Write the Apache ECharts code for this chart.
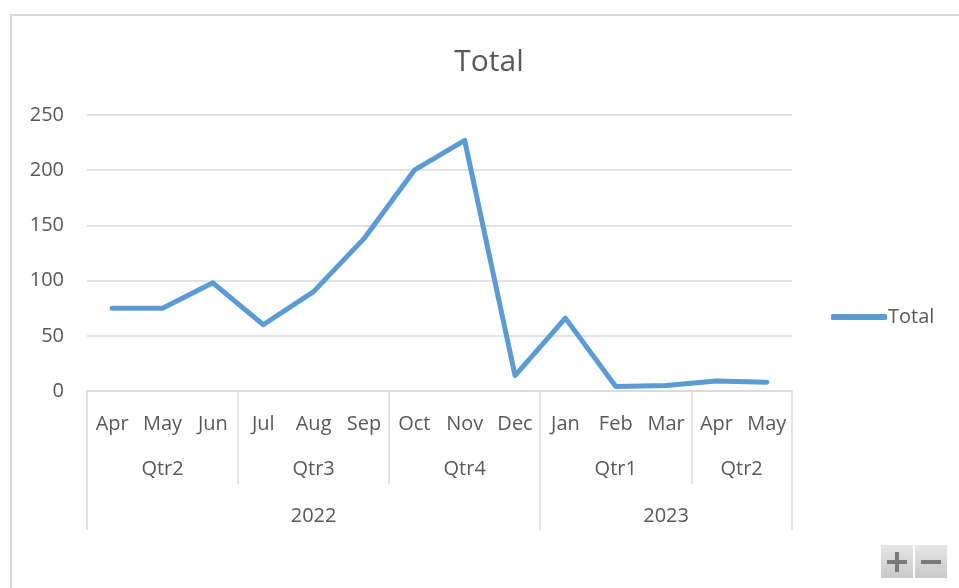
<!DOCTYPE html>
<html>
<head>
<meta charset="utf-8">
<script src="https://cdn.jsdelivr.net/npm/echarts@6/dist/echarts.min.js"></script>
<style>
    html, body { margin: 0; padding: 0; background: #ffffff; }
    #main { width: 959px; height: 588px; }
</style>
</head>
<body>
<div id="main"></div>
<script>
const months = ['Apr', 'May', 'Jun', 'Jul', 'Aug', 'Sep', 'Oct', 'Nov', 'Dec', 'Jan', 'Feb', 'Mar', 'Apr', 'May'];
const totals = [75, 75, 98, 60, 90, 138, 200, 227, 14, 66, 4, 5, 9, 8];

// quarter groups: label, position of label centre, group boundaries (in month units)
const quarterLabels = ['Qtr2', 'Qtr3', 'Qtr4', 'Qtr1', 'Qtr2'];
const quarterCentres = [1.5, 4.5, 7.5, 10.5, 13];
const quarterEdges = [0, 3, 6, 9, 12, 14];

const yearLabels = ['2022', '2023'];
const yearCentres = [4.5, 11.5];
const yearEdges = [0, 9, 14];

const fontFamily = 'Open Sans, Noto Sans, sans-serif';
const textColor = '#595959';
const gridColor = '#d9d9d9';
const labelSize = 20;

function groupAxis(centres, labels, edges, tickLen, margin) {
    return {
        type: 'value',
        min: 0,
        max: months.length,
        position: 'bottom',
        axisLine: { show: false },
        splitLine: { show: false },
        axisTick: {
            show: true,
            customValues: edges,
            length: tickLen,
            lineStyle: { color: gridColor, width: 1.5 }
        },
        axisLabel: {
            customValues: centres,
            margin: margin,
            fontFamily: fontFamily,
            fontSize: labelSize,
            color: textColor,
            formatter: function (v) {
                let i = centres.indexOf(v);
                return i >= 0 ? labels[i] : '';
            }
        }
    };
}

var chart = echarts.init(document.getElementById('main'));

var option = {
    backgroundColor: '#ffffff',
    animation: false,
    title: {
        text: 'Total',
        left: 484,
        textAlign: 'center',
        top: 42,
        textStyle: {
            fontFamily: fontFamily,
            fontSize: 30,
            fontWeight: 'normal',
            color: textColor
        }
    },
    legend: {
        left: 826,
        top: 302,
        icon: 'roundRect',
        itemWidth: 56,
        itemHeight: 6,
        itemGap: 5,
        textStyle: {
            fontFamily: fontFamily,
            fontSize: labelSize,
            color: textColor,
            padding: [0, 0, 0, -4]
        },
        data: ['Total']
    },
    grid: {
        left: 87,
        right: 167,
        top: 115,
        bottom: 197
    },
    xAxis: [
        {
            type: 'category',
            data: months,
            boundaryGap: true,
            axisLine: { lineStyle: { color: gridColor, width: 1.5 } },
            axisTick: { show: false },
            axisLabel: {
                interval: 0,
                margin: 23,
                fontFamily: fontFamily,
                fontSize: labelSize,
                color: textColor
            }
        },
        groupAxis(quarterCentres, quarterLabels, quarterEdges, 93, 68),
        groupAxis(yearCentres, yearLabels, yearEdges, 139, 115)
    ],
    yAxis: {
        type: 'value',
        min: 0,
        max: 250,
        interval: 50,
        axisLine: { show: false },
        axisTick: { show: false },
        splitLine: { lineStyle: { color: gridColor, width: 1.5 } },
        axisLabel: {
            margin: 23,
            fontFamily: fontFamily,
            fontSize: labelSize,
            color: textColor
        }
    },
    series: [{
        name: 'Total',
        type: 'line',
        xAxisIndex: 0,
        data: totals,
        symbol: 'none',
        lineStyle: { color: '#5b9bd5', width: 5, cap: 'round', join: 'round' },
        itemStyle: { color: '#5b9bd5' }
    }],
    graphic: [
        {
            type: 'rect',
            shape: { x: 11, y: 15, width: 960, height: 590 },
            style: { fill: 'none', stroke: '#d9d9d9', lineWidth: 2 },
            silent: true
        },
        {
            type: 'rect',
            shape: { x: 881, y: 545, width: 32, height: 33 },
            style: {
                fill: new echarts.graphic.LinearGradient(0, 0, 0, 1, [
                    { offset: 0, color: '#e6e6e6' },
                    { offset: 1, color: '#c8c8c8' }
                ])
            }
        },
        {
            type: 'rect',
            shape: { x: 915, y: 545, width: 32, height: 33 },
            style: {
                fill: new echarts.graphic.LinearGradient(0, 0, 0, 1, [
                    { offset: 0, color: '#e6e6e6' },
                    { offset: 1, color: '#c8c8c8' }
                ])
            }
        },
        {
            type: 'rect',
            shape: { x: 887, y: 560, width: 20, height: 4 },
            style: { fill: '#7a7a7a' }
        },
        {
            type: 'rect',
            shape: { x: 895, y: 552, width: 4, height: 20 },
            style: { fill: '#7a7a7a' }
        },
        {
            type: 'rect',
            shape: { x: 921, y: 560, width: 20, height: 4 },
            style: { fill: '#7a7a7a' }
        }
    ]
};

chart.setOption(option);
</script>
</body>
</html>
